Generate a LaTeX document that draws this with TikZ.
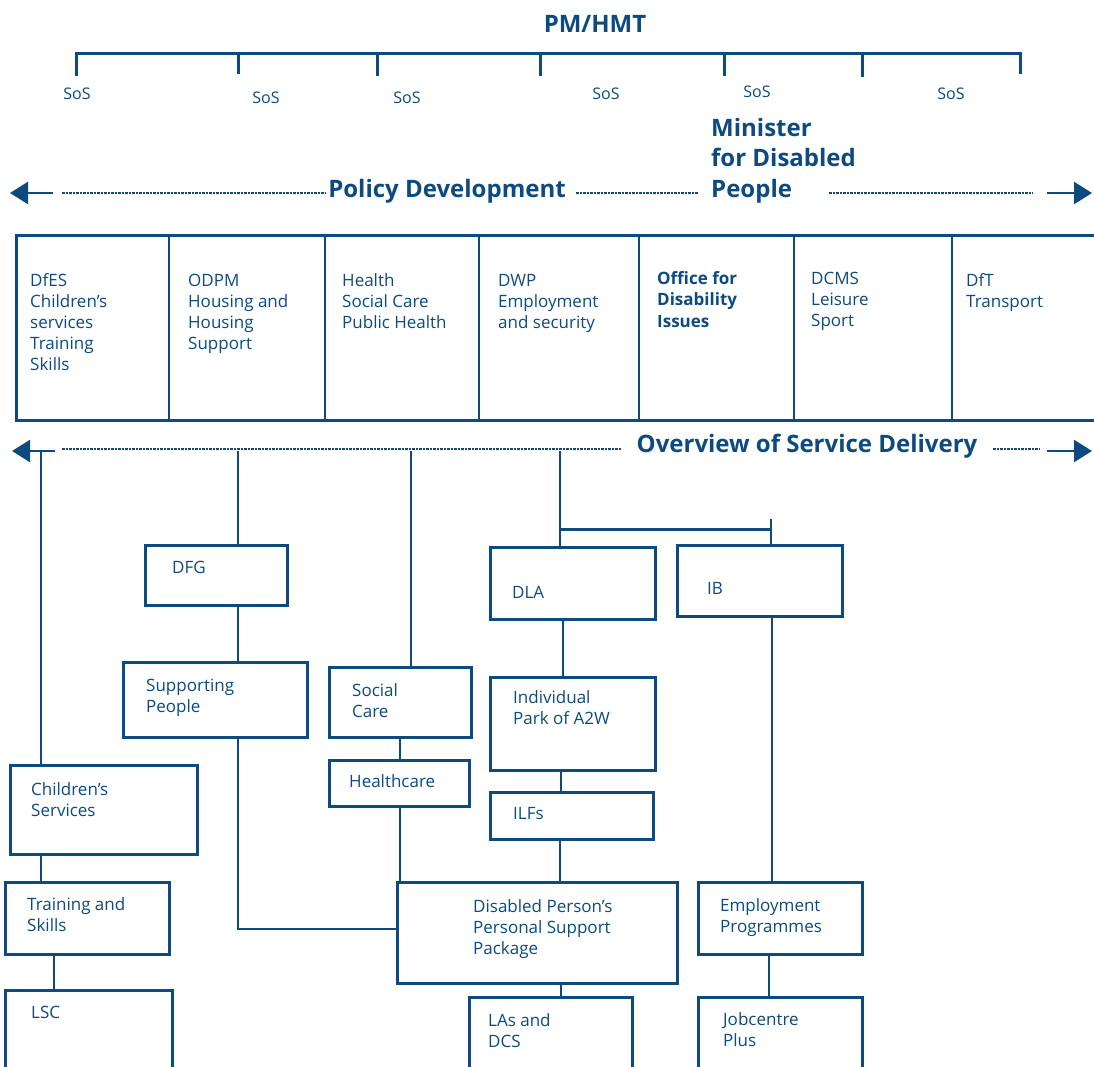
\documentclass[tikz,border=0pt]{standalone}
\usepackage{fontspec}
\setmainfont{Open Sans}
\usetikzlibrary{arrows.meta}
\definecolor{navy}{RGB}{12,74,128}
\begin{document}
\begin{tikzpicture}[x=1pt,y=-1pt,
 every node/.style={text=navy},
 box/.style={draw=navy, line width=3pt, rectangle, inner sep=0pt, outer sep=0pt, anchor=north west},
 txt/.style={anchor=base west, inner sep=0pt, align=left, font=\fontsize{17}{21}\selectfont},
 btxt/.style={anchor=base west, inner sep=0pt, align=left, font=\fontsize{17}{21.5}\selectfont\bfseries},
 big/.style={inner sep=0pt, font=\fontsize{24}{30.5}\selectfont\bfseries},
 sos/.style={inner sep=0pt, anchor=base, font=\fontsize{16}{20}\selectfont},
 link/.style={draw=navy, line width=2pt},
 bar/.style={draw=navy, line width=3pt, line join=miter},
 divider/.style={draw=navy, line width=2.5pt},
 dots/.style={draw=navy, line width=1.3pt, dash pattern=on 2.5pt off 1pt},
 arr/.style={draw=navy, line width=2.5pt, -{Triangle[length=18pt,width=22pt]}},
]
\useasboundingbox (0,0) rectangle (1094,1066);
\clip (0,0) rectangle (1094,1066);

% ---------- top bracket ----------
\node[big, anchor=base] (pm) at (595,32) {PM/HMT};
\coordinate (t1) at (76,53);   \coordinate (s1) at (76,76);
\coordinate (t2) at (238,53);  \coordinate (s2) at (238,74);
\coordinate (t3) at (377,53);  \coordinate (s3) at (377,76);
\coordinate (t4) at (540,53);  \coordinate (s4) at (540,76);
\coordinate (t5) at (724,53);  \coordinate (s5) at (724,76);
\coordinate (t6) at (862,53);  \coordinate (s6) at (862,77);
\coordinate (t7) at (1020,53); \coordinate (s7) at (1020,74);
\draw[bar] (s1) -- (t1) -- (t7) -- (s7);
\foreach \i in {2,...,6} \draw[bar] (t\i) -- (s\i);

\node[sos] (sos1) at (77,99) {SoS};
\node[sos] (sos2) at (266,103) {SoS};
\node[sos] (sos3) at (407,103) {SoS};
\node[sos] (sos4) at (606,99) {SoS};
\node[sos] (sos5) at (757,97) {SoS};
\node[sos] (sos6) at (951,99) {SoS};

% ---------- policy development ----------
\node[big, anchor=base west, align=left] (mdp) at (711,197) {Minister\\for Disabled\\People};
\node[big, anchor=base] (pd) at (447,197) {Policy Development};
\coordinate (pdL) at (10,193);  \coordinate (pdLs) at (53,193);
\coordinate (pdR) at (1092,193); \coordinate (pdRs) at (1047,193);
\draw[arr] (pdLs) -- (pdL);
\draw[arr] (pdRs) -- (pdR);
\coordinate (d1a) at (62,193);  \coordinate (d1b) at (326,193);
\coordinate (d2a) at (576,193); \coordinate (d2b) at (698,193);
\coordinate (d3a) at (829,193); \coordinate (d3b) at (1033,193);
\draw[dots] (d1a) -- (d1b);
\draw[dots] (d2a) -- (d2b);
\draw[dots] (d3a) -- (d3b);

% ---------- departments row ----------
\node[box, minimum width=1110pt, minimum height=185pt] (row) at (16,235) {};
\foreach \x in {169,325,479,639,794,952} \draw[divider] (\x,235) -- (\x,420);
\node[txt] (c1) at (30,370) {DfES\\Children’s\\services\\Training\\Skills};
\node[txt] (c2) at (188,349) {ODPM\\Housing and\\Housing\\Support};
\node[txt] (c3) at (342,328) {Health\\Social Care\\Public Health};
\node[txt] (c4) at (498,328) {DWP\\Employment\\and security};
\node[btxt] (c5) at (657,327) {Office for\\Disability\\Issues};
\node[txt] (c6) at (811,326) {DCMS\\Leisure\\Sport};
\node[txt] (c7) at (966,307) {DfT\\Transport};

% ---------- overview of service delivery ----------
\node[big, anchor=base] (osd) at (807,452) {Overview of Service Delivery};
\coordinate (oL) at (12,451);  \coordinate (oLs) at (55,451);
\coordinate (oR) at (1092,451); \coordinate (oRs) at (1047,451);
\draw[arr] (oLs) -- (oL);
\draw[arr] (oRs) -- (oR);
\coordinate (e1a) at (62,449);  \coordinate (e1b) at (622,449);
\coordinate (e2a) at (993,449); \coordinate (e2b) at (1040,449);
\draw[dots] (e1a) -- (e1b);
\draw[dots] (e2a) -- (e2b);

% ---------- delivery boxes ----------
\node[box, minimum width=142pt, minimum height=60pt] (dfg) at (145,545) {};
\node[txt] (dfgt) at (172,573) {DFG};
\node[box, minimum width=184pt, minimum height=75pt] (sp) at (123,662) {};
\node[txt] (spt) at (146,712) {Supporting\\People};
\node[box, minimum width=142pt, minimum height=70pt] (sc) at (329,667) {};
\node[txt] (sct) at (352,717) {Social\\Care};
\node[box, minimum width=140pt, minimum height=46pt] (hc) at (329,760) {};
\node[txt] (hct) at (349,787) {Healthcare};
\node[box, minimum width=165pt, minimum height=72pt] (dla) at (490,547) {};
\node[txt] (dlat) at (512,598) {DLA};
\node[box, minimum width=165pt, minimum height=71pt] (ib) at (677,545) {};
\node[txt] (ibt) at (707,594) {IB};
\node[box, minimum width=165pt, minimum height=93pt] (ind) at (490,677) {};
\node[txt] (indt) at (513,724) {Individual\\Park of A2W};
\node[box, minimum width=163pt, minimum height=47pt] (ilf) at (490,792) {};
\node[txt] (ilft) at (513,819) {ILFs};
\node[box, minimum width=187pt, minimum height=89pt] (chs) at (10,765) {};
\node[txt] (chst) at (31,816) {Children’s\\Services};
\node[box, minimum width=164pt, minimum height=72pt] (ts) at (5,882) {};
\node[txt] (tst) at (27,931) {Training and\\Skills};
\node[box, minimum width=167pt, minimum height=100pt] (lsc) at (5,990) {};
\node[txt] (lsct) at (31,1018) {LSC};
\node[box, minimum width=280pt, minimum height=101pt] (dpp) at (397,882) {};
\node[txt] (dppt) at (473,954) {Disabled Person’s\\Personal Support\\Package};
\node[box, minimum width=163pt, minimum height=90pt] (las) at (469,997) {};
\node[txt] (last) at (488,1047) {LAs and\\DCS};
\node[box, minimum width=164pt, minimum height=72pt] (ep) at (698,882) {};
\node[txt] (ept) at (720,932) {Employment\\Programmes};
\node[box, minimum width=164pt, minimum height=90pt] (jp) at (698,997) {};
\node[txt] (jpt) at (723,1046) {Jobcentre\\Plus};

% ---------- connectors ----------
\coordinate (ov1) at (41,451);
\coordinate (ov2) at (238,451);
\coordinate (ov3) at (411,451);
\coordinate (ov4) at (560,451);
\coordinate (j1) at (560,529);
\coordinate (j2) at (771,529);
\coordinate (j2t) at (771,519);
\coordinate (hy) at (0,929);
\coordinate (xa) at (400,0);
\coordinate (xb) at (563,0);
\coordinate (xc) at (561,0);
\coordinate (xd) at (772,0);
\coordinate (xe) at (769,0);
\coordinate (xf) at (54,0);

\draw[link] (ov1) -- (ov1 |- chs.north);
\draw[link] (ov1 |- chs.south) -- (ov1 |- ts.north);
\draw[link] (xf |- ts.south) -- (xf |- lsc.north);
\draw[link] (ov2) -- (ov2 |- dfg.north);
\draw[link] (ov2 |- dfg.south) -- (ov2 |- sp.north);
\draw[link] (ov2 |- sp.south) |- (dpp.west |- hy);
\draw[link] (ov3) -- (ov3 |- sc.north);
\draw[link] (xa |- sc.south) -- (xa |- hc.north);
\draw[link] (xa |- hc.south) -- (xa |- dpp.north);
\draw[link] (ov4) -- (ov4 |- dla.north);
\draw[bar] (j1) -- (j2);
\draw[link] (j2t) -- (j2t |- ib.north);
\draw[link] (xb |- dla.south) -- (xb |- ind.north);
\draw[link] (xc |- ind.south) -- (xc |- ilf.north);
\draw[link] (ov4 |- ilf.south) -- (ov4 |- dpp.north);
\draw[link] (xc |- dpp.south) -- (xc |- las.north);
\draw[link] (xd |- ib.south) -- (xd |- ep.north);
\draw[link] (xe |- ep.south) -- (xe |- jp.north);
\end{tikzpicture}
\end{document}
